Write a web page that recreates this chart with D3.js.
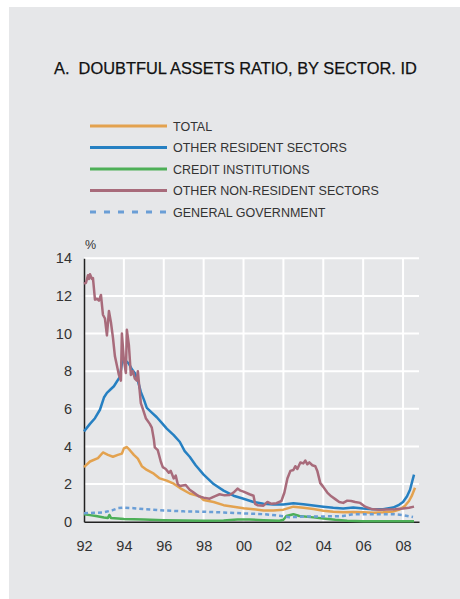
<!DOCTYPE html>
<html>
<head>
<meta charset="utf-8">
<script src="https://cdn.jsdelivr.net/npm/d3@7"></script>
<style>
  body { margin: 0; background: #fff; }
  svg text { font-family: "Liberation Sans", Arial, sans-serif; }
</style>
</head>
<body>
<div id="chart-area"></div>
<script>
// data, [year, %]
let total = [[1992.0,2.9],[1992.3,3.2],[1992.7,3.38],[1992.95,3.68],[1993.2,3.55],[1993.45,3.45],[1993.7,3.55],[1993.9,3.62],[1994.0,3.9],[1994.15,3.97],[1994.3,3.8],[1994.5,3.55],[1994.7,3.35],[1994.9,2.95],[1995.15,2.75],[1995.5,2.55],[1995.8,2.3],[1996.15,2.18],[1996.5,2.02],[1996.8,1.8],[1997.3,1.5],[1997.8,1.35],[1998.0,1.15],[1998.5,1.05],[1999.0,0.88],[1999.5,0.8],[2000.0,0.72],[2000.5,0.66],[2001.0,0.6],[2001.5,0.6],[2002.0,0.64],[2002.5,0.8],[2003.0,0.74],[2003.5,0.67],[2004.0,0.58],[2004.5,0.53],[2005.0,0.5],[2005.5,0.52],[2006.0,0.5],[2006.5,0.48],[2007.0,0.5],[2007.5,0.54],[2007.85,0.66],[2008.1,0.85],[2008.3,1.1],[2008.45,1.4],[2008.6,1.8]]

let otherResident = [[1992.0,4.8],[1992.3,5.2],[1992.55,5.5],[1992.8,5.95],[1993.0,6.6],[1993.15,6.85],[1993.3,7.0],[1993.5,7.2],[1993.65,7.45],[1993.8,7.7],[1993.9,8.4],[1994.0,8.65],[1994.1,8.55],[1994.25,8.4],[1994.4,8.1],[1994.55,7.9],[1994.7,7.5],[1994.85,6.9],[1995.0,6.5],[1995.15,6.05],[1995.4,5.8],[1995.65,5.55],[1995.9,5.25],[1996.15,4.95],[1996.5,4.6],[1996.8,4.25],[1997.05,3.75],[1997.3,3.45],[1997.6,3.0],[1998.0,2.5],[1998.5,2.0],[1999.0,1.65],[1999.5,1.38],[2000.0,1.22],[2000.5,1.05],[2001.0,0.95],[2001.5,0.92],[2002.0,0.92],[2002.5,0.98],[2003.0,0.93],[2003.5,0.86],[2004.0,0.8],[2004.5,0.74],[2005.0,0.7],[2005.5,0.76],[2006.0,0.7],[2006.5,0.66],[2007.0,0.66],[2007.5,0.75],[2007.8,0.9],[2008.0,1.05],[2008.2,1.35],[2008.35,1.7],[2008.45,2.1],[2008.55,2.5]]

let creditInst = [[1992.0,0.4],[1992.3,0.35],[1992.6,0.3],[1993.0,0.22],[1993.2,0.2],[1993.27,0.36],[1993.35,0.2],[1993.7,0.17],[1994.0,0.15],[1995.0,0.12],[1996.0,0.08],[1997.0,0.06],[1998.0,0.05],[1999.0,0.07],[1999.7,0.12],[2000.3,0.12],[2001.0,0.08],[2001.8,0.05],[2002.0,0.1],[2002.15,0.3],[2002.5,0.4],[2002.8,0.3],[2003.5,0.23],[2004.0,0.17],[2004.6,0.1],[2005.2,0.05],[2006.0,0.03],[2007.0,0.02],[2008.55,0.02]]

let nonResident = [[1992.0,12.65],[1992.1,12.7],[1992.2,13.1],[1992.25,12.9],[1992.3,13.15],[1992.4,12.9],[1992.45,12.95],[1992.55,11.8],[1992.65,11.85],[1992.75,11.75],[1992.85,12.05],[1992.95,11.0],[1993.05,10.8],[1993.15,9.9],[1993.25,11.2],[1993.35,10.6],[1993.45,9.8],[1993.55,8.8],[1993.65,8.3],[1993.75,7.8],[1993.85,7.5],[1993.9,10.0],[1994.0,8.6],[1994.1,7.9],[1994.15,10.2],[1994.25,9.4],[1994.35,7.8],[1994.45,8.0],[1994.55,7.6],[1994.65,7.5],[1994.7,8.0],[1994.78,7.1],[1994.85,6.3],[1994.95,6.0],[1995.1,5.5],[1995.3,5.2],[1995.4,5.0],[1995.5,4.4],[1995.55,3.95],[1995.7,3.8],[1995.85,3.2],[1995.95,2.9],[1996.1,2.8],[1996.25,2.6],[1996.35,2.7],[1996.5,2.3],[1996.6,2.45],[1996.7,2.0],[1996.8,1.9],[1997.1,1.95],[1997.3,1.7],[1997.5,1.55],[1997.75,1.35],[1998.0,1.28],[1998.3,1.22],[1998.55,1.35],[1998.8,1.46],[1999.05,1.4],[1999.3,1.42],[1999.5,1.55],[1999.7,1.76],[1999.85,1.65],[2000.0,1.6],[2000.3,1.46],[2000.5,1.38],[2000.58,0.95],[2000.7,0.88],[2001.0,0.85],[2001.2,1.05],[2001.4,0.95],[2001.65,0.98],[2001.9,1.1],[2002.05,1.55],[2002.2,2.3],[2002.35,2.7],[2002.5,2.75],[2002.6,2.95],[2002.7,2.8],[2002.85,3.15],[2003.0,3.1],[2003.1,3.25],[2003.2,3.05],[2003.3,3.15],[2003.45,3.0],[2003.6,2.95],[2003.7,2.7],[2003.85,2.05],[2004.0,1.85],[2004.2,1.55],[2004.4,1.35],[2004.6,1.2],[2004.8,1.05],[2005.0,1.0],[2005.2,1.12],[2005.4,1.1],[2005.6,1.05],[2005.85,1.0],[2006.1,0.8],[2006.4,0.68],[2006.8,0.64],[2007.2,0.65],[2007.6,0.66],[2008.0,0.7],[2008.3,0.74],[2008.55,0.8]]

let generalGov = [[1992.0,0.45],[1992.5,0.47],[1993.0,0.5],[1993.4,0.6],[1993.7,0.72],[1994.0,0.75],[1994.5,0.72],[1995.0,0.67],[1996.0,0.6],[1997.0,0.55],[1998.0,0.53],[1999.0,0.49],[2000.0,0.44],[2001.0,0.4],[2001.8,0.32],[2002.3,0.24],[2003.0,0.27],[2004.0,0.28],[2005.0,0.3],[2005.5,0.4],[2006.5,0.4],[2007.5,0.4],[2008.0,0.35],[2008.5,0.25]]

let seriesNames = ["TOTAL", "OTHER RESIDENT SECTORS", "CREDIT INSTITUTIONS", "OTHER NON-RESIDENT SECTORS", "GENERAL GOVERNMENT"]
let xTicks = [1992, 1994, 1996, 1998, 2000, 2002, 2004, 2006, 2008]
let yTicks = [0, 2, 4, 6, 8, 10, 12, 14]

let series = [
  { name: seriesNames[0], values: total, color: "#E3A24F", dash: null },
  { name: seriesNames[1], values: otherResident, color: "#2680C2", dash: null },
  { name: seriesNames[2], values: creditInst, color: "#4DAF57", dash: null },
  { name: seriesNames[3], values: nonResident, color: "#A86B7B", dash: null },
  { name: seriesNames[4], values: generalGov, color: "#6A9ED6", dash: "4,3" }
]

let svg = d3.select("#chart-area").append("svg")
            .attr("width", 460)
            .attr("height", 599)

// panel
svg.append("rect")
   .attr("x", 9).attr("y", 7)
   .attr("width", 451).attr("height", 592)
   .attr("fill", "#E6E7E9")

svg.append("text")
   .attr("x", 54).attr("y", 74)
   .attr("font-size", 16.4)
   .attr("fill", "#111")
   .attr("stroke", "#111").attr("stroke-width", 0.25)
   .attr("xml:space", "preserve")
   .text("A.  DOUBTFUL ASSETS RATIO, BY SECTOR. ID")

// legend
let legend = svg.selectAll(".legend")
                .data(series)
                .enter()
                .append("g")
                .attr("transform", (d, i) => "translate(90," + (126 + i * 21.5) + ")")
legend.append("line")
      .attr("x1", 0).attr("x2", 77)
      .attr("stroke", d => d.color)
      .attr("stroke-width", 3)
      .attr("stroke-dasharray", d => d.dash ? "6,8" : null)
legend.append("text")
      .attr("x", 83).attr("dy", "0.36em")
      .attr("font-size", 12.5)
      .attr("fill", "#333")
      .text(d => d.name)

// scales
let x = d3.scaleLinear().domain([1992, 2008.8]).range([84, 419])
let y = d3.scaleLinear().domain([0, 14]).range([521.7, 258.3])

// grid
svg.selectAll(".hgrid")
   .data(yTicks.slice(1))
   .enter()
   .append("line")
   .attr("x1", x(1992)).attr("x2", x(2008.8))
   .attr("y1", d => y(d)).attr("y2", d => y(d))
   .attr("stroke", "#fff").attr("stroke-width", 2)
svg.selectAll(".vgrid")
   .data(xTicks.slice(1))
   .enter()
   .append("line")
   .attr("x1", d => x(d)).attr("x2", d => x(d))
   .attr("y1", y(0)).attr("y2", y(14))
   .attr("stroke", "#fff").attr("stroke-width", 2)

// axes
let yAxis = svg.append("g")
               .attr("transform", "translate(" + x(1992) + ",0)")
               .call(d3.axisLeft(y).tickValues(yTicks).tickSize(0).tickPadding(12))
let xAxis = svg.append("g")
               .attr("transform", "translate(0," + y(0) + ")")
               .call(d3.axisBottom(x).tickValues(xTicks).tickSize(0).tickPadding(19)
                       .tickFormat(d => String(d).slice(2)))
yAxis.select(".domain").attr("stroke", "#222").attr("stroke-width", 1.5)
xAxis.select(".domain").attr("stroke", "#222").attr("stroke-width", 1.5)
svg.selectAll(".tick text")
   .attr("font-family", "'Liberation Sans', Arial, sans-serif")
   .attr("font-size", 14.5)
   .attr("fill", "#333")

svg.append("text")
   .attr("x", 85).attr("y", 249)
   .attr("font-size", 12.5)
   .attr("fill", "#333")
   .text("%")

// lines
let line = d3.line()
             .x(d => x(d[0]))
             .y(d => y(d[1]))

svg.selectAll(".series")
   .data(series)
   .enter()
   .append("path")
   .attr("d", d => line(d.values))
   .attr("fill", "none")
   .attr("stroke", d => d.color)
   .attr("stroke-width", 2.5)
   .attr("stroke-linejoin", "round")
   .attr("stroke-dasharray", d => d.dash)
</script>
</body>
</html>
